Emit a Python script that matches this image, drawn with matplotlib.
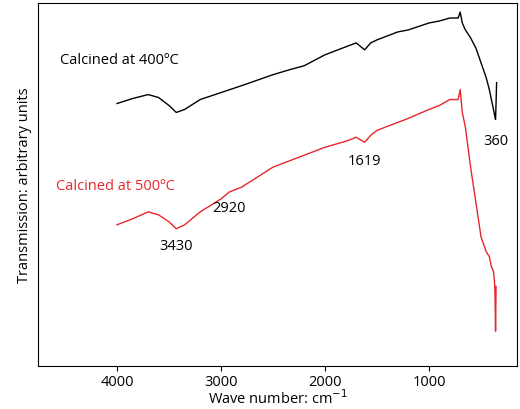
import matplotlib
matplotlib.use("Agg")
import matplotlib.pyplot as plt

plt.rcParams["font.family"] = ["Open Sans", "DejaVu Sans"]

# wavenumber (cm-1) and transmission (arbitrary units)
wn_400 = [4000, 3850, 3700, 3600, 3500, 3430, 3350, 3200, 3000, 2800, 2500, 2340, 2200,
          2000, 1800, 1700, 1619, 1560, 1500, 1300, 1200, 1000, 900, 800, 720, 700, 680,
          650, 600, 550, 500, 450, 420, 400, 380, 365, 360, 355, 350]
tr_400 = [264, 269, 273, 270, 262, 255, 258, 268, 275, 282, 293, 298, 302,
          313, 321, 325, 318, 325, 328, 336, 338, 345, 347, 350, 350, 356, 345,
          338, 330, 320, 305, 290, 278, 268, 258, 250, 248, 265, 285]
wn_500 = [4000, 3850, 3700, 3600, 3500, 3430, 3350, 3200, 3000, 2920, 2800, 2500, 2200,
          2000, 1800, 1700, 1619, 1560, 1500, 1300, 1200, 1000, 900, 800, 720, 700, 680,
          650, 600, 550, 500, 450, 420, 400, 380, 370, 365, 360, 355]
tr_500 = [142, 148, 155, 152, 145, 138, 142, 155, 168, 175, 180, 200, 212,
          220, 226, 230, 225, 232, 237, 245, 249, 258, 262, 268, 268, 278, 255,
          240, 200, 165, 130, 115, 110, 100, 95, 85, 70, 35, 80]

fig, ax = plt.subplots(figsize=(5.2, 4.1), dpi=100)
ax.plot(wn_400, tr_400, color="black", lw=1)
ax.plot(wn_500, tr_500, color="#e8262b", lw=1)
ax.set_xlim(4760, 150)
ax.set_ylim(0, 365)
ax.set_xticks([4000, 3000, 2000, 1000])
ax.set_yticks([])
ax.tick_params(axis="x", labelsize=10.5, pad=2)
ax.set_xlabel("Wave number: cm$^{-1}$", fontsize=10.5, labelpad=0)
ax.set_ylabel("Transmission: arbitrary units", fontsize=10.5, labelpad=4)
ax.text(4550, 305, "Calcined at 400ºC", fontsize=10.5, color="black")
ax.text(4590, 178, "Calcined at 500ºC", fontsize=10.5, color="#e8262b")
ax.text(3430, 118, "3430", fontsize=10.5, ha="center")
ax.text(2920, 156, "2920", fontsize=10.5, ha="center")
ax.text(1619, 203, "1619", fontsize=10.5, ha="center")
ax.text(360, 223, "360", fontsize=10.5, ha="center")
fig.subplots_adjust(left=0.073, right=0.995, top=0.99, bottom=0.105)
fig.savefig("out.png")
